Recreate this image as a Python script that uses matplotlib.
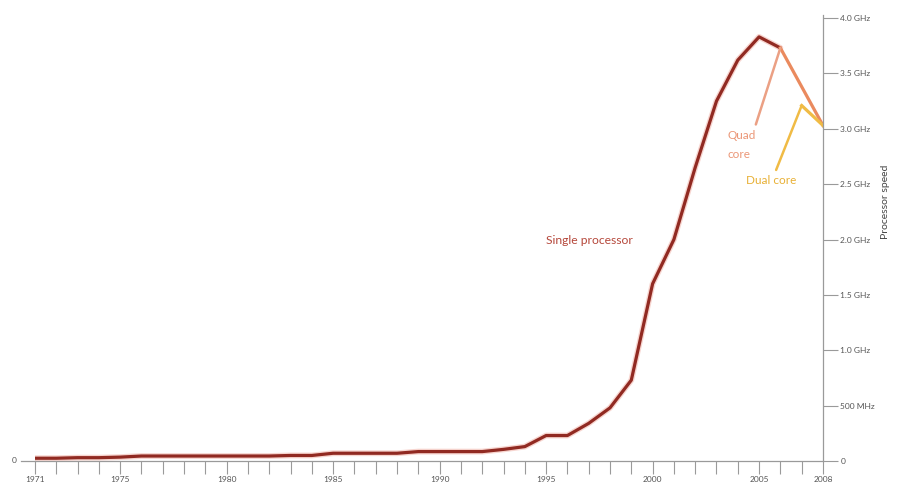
import matplotlib
matplotlib.use("Agg")
import matplotlib.pyplot as plt
import numpy as np

plt.rcParams["font.family"] = ["Lato", "DejaVu Sans"]

# 단일 프로세서 클럭 (GHz), 연도별 — 그림에서 읽은 값
single_years = list(range(1971, 2007))
single_ghz = [0.025, 0.025, 0.03, 0.03, 0.035, 0.045, 0.045, 0.045, 0.045, 0.045,
              0.045, 0.045, 0.05, 0.05, 0.07, 0.07, 0.07, 0.07, 0.085, 0.085,
              0.085, 0.085, 0.105, 0.13, 0.23, 0.23, 0.34, 0.48, 0.73, 1.6,
              2.0, 2.65, 3.25, 3.62, 3.83, 3.73]

# 쿼드/듀얼 코어
quad_years = [2006, 2007, 2008]
quad_ghz = [3.73, 3.38, 3.03]
dual_years = [2007, 2008]
dual_ghz = [3.21, 3.03]

xtick_years = [1971, 1975, 1980, 1985, 1990, 1995, 2000, 2005, 2008]
ytick_vals = [0, 0.5, 1.0, 1.5, 2.0, 2.5, 3.0, 3.5, 4.0]
ytick_labels = ["0", "500 MHz", "1.0 GHz", "1.5 GHz", "2.0 GHz", "2.5 GHz",
                "3.0 GHz", "3.5 GHz", "4.0 GHz"]

RED = "#912a22"
QUAD = "#ea8a5e"
DUAL = "#f0bb45"
AXIS = "#9a9a9a"
LABEL = "#555555"

fig = plt.figure(figsize=(9.01, 4.91), dpi=100)
ax = fig.add_axes([0.0388, 0.0611, 0.8746, 0.9089])
ax.set_xlim(1971, 2008)
ax.set_ylim(0, 4.03)

# 선 (분홍 번짐 + 본선)
ax.plot(single_years, single_ghz, color="#f2b9b0", lw=4.2, alpha=0.6,
        solid_capstyle="round", solid_joinstyle="round")
ax.plot(single_years, single_ghz, color=RED, lw=2.3,
        solid_capstyle="round", solid_joinstyle="round")
ax.plot(quad_years, quad_ghz, color=QUAD, lw=2.3, solid_joinstyle="round")
ax.plot(dual_years, dual_ghz, color=DUAL, lw=2.3, solid_joinstyle="round")

# 라벨
ax.text(1995.0, 1.99, "Single processor", color="#b5473a", fontsize=8.7,
        ha="left", va="center")
ax.annotate("Quad\ncore", xy=(quad_years[0], quad_ghz[0]), xytext=(2003.5, 2.99),
            color="#eb9676", fontsize=8.5, ha="left", va="top", linespacing=1.85,
            arrowprops=dict(arrowstyle="-", color="#eba084", lw=1.8,
                            relpos=(0.95, 1.0), shrinkA=2, shrinkB=0))
ax.annotate("Dual core", xy=(dual_years[0], dual_ghz[0]), xytext=(2004.4, 2.58),
            color="#e8b035", fontsize=8.5, ha="left", va="top",
            arrowprops=dict(arrowstyle="-", color=DUAL, lw=1.8,
                            relpos=(0.55, 1.0), shrinkA=2, shrinkB=0))

# 축
for side in ("top", "left"):
    ax.spines[side].set_visible(False)
ax.spines["bottom"].set_color(AXIS)
ax.spines["right"].set_color(AXIS)
ax.spines["bottom"].set_linewidth(0.9)
ax.spines["right"].set_linewidth(0.9)

ax.set_xticks(range(1971, 2009))
ax.set_xticklabels([str(y) if y in xtick_years else "" for y in range(1971, 2009)])
ax.tick_params(axis="x", direction="out", length=9, width=0.8, color=AXIS,
               labelsize=6, labelcolor=LABEL, pad=1.5)

ax.yaxis.tick_right()
ax.set_yticks(ytick_vals)
ax.set_yticklabels(ytick_labels)
ax.tick_params(axis="y", direction="out", length=10.5, width=0.8, color=AXIS,
               labelsize=6, labelcolor=LABEL, pad=2, left=False, right=True)

# 왼쪽 "0" 표시
ax.plot([1970.35, 1971], [0, 0], color=AXIS, lw=0.9, clip_on=False)
ax.text(1970.15, 0, "0", color=LABEL, fontsize=6, ha="right", va="center")

ax.yaxis.set_label_position("right")
ax.set_ylabel("Processor speed", fontsize=7.5, color="#444444", labelpad=4)
ax.yaxis.label.set_y(0.58)

fig.savefig("out.png", dpi=100, facecolor="white")
